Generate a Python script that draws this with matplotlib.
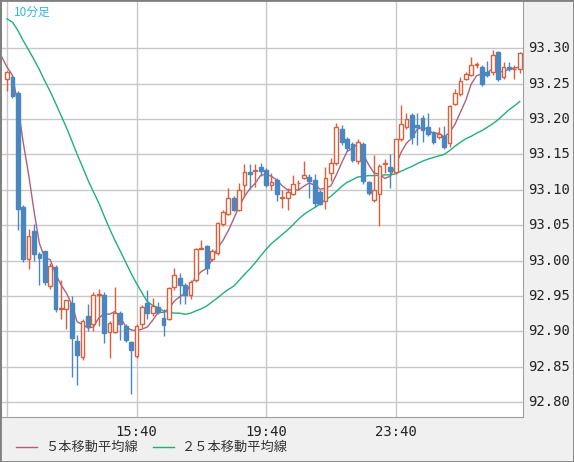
import matplotlib
matplotlib.use("Agg")
import matplotlib.pyplot as plt
import numpy as np

plt.rcParams['font.family'] = ['Noto Sans CJK JP', 'DejaVu Sans']

opens = [93.257,93.259,93.237,93.076,93.002,93.042,93.009,93.013,92.964,92.991,
         92.932,92.932,92.940,92.887,92.864,92.922,92.910,92.951,92.952,92.899,
         92.899,92.926,92.908,92.885,92.865,92.910,92.940,92.926,92.935,92.919,
         92.917,92.962,92.975,92.966,92.952,92.972,93.017,93.020,93.002,93.010,
         93.051,93.066,93.088,93.072,93.107,93.125,93.127,93.132,93.128,93.107,
         93.114,93.088,93.088,93.094,93.109,93.117,93.118,93.114,93.097,93.084,
         93.124,93.138,93.186,93.172,93.165,93.141,93.165,93.111,93.086,93.094,
         93.137,93.132,93.125,93.171,93.189,93.205,93.192,93.202,93.188,93.181,
         93.174,93.176,93.166,93.221,93.235,93.257,93.262,93.276,93.273,93.267,
         93.266,93.294,93.259,93.274,93.270,93.270]
highs = [93.268,93.262,93.240,93.078,93.044,93.051,93.012,93.013,92.996,92.993,
         92.972,92.944,92.950,92.895,92.917,92.938,92.956,92.960,92.955,92.914,
         92.963,92.929,92.910,92.887,92.910,92.937,92.958,92.947,92.941,92.932,
         92.962,92.990,92.983,92.968,92.973,93.018,93.029,93.022,93.016,93.055,
         93.072,93.103,93.091,93.110,93.136,93.137,93.137,93.138,93.130,93.124,
         93.116,93.100,93.102,93.121,93.114,93.140,93.122,93.122,93.100,93.132,
         93.145,93.194,93.192,93.174,93.168,93.171,93.167,93.113,93.149,93.136,
         93.144,93.151,93.172,93.219,93.208,93.208,93.208,93.206,93.208,93.183,
         93.189,93.190,93.220,93.242,93.259,93.267,93.287,93.280,93.276,93.282,
         93.297,93.296,93.280,93.281,93.276,93.295]
lows = [93.240,93.230,93.043,92.998,92.988,93.000,92.966,92.966,92.960,92.928,
        92.917,92.904,92.836,92.824,92.860,92.900,92.900,92.908,92.883,92.863,
        92.897,92.888,92.885,92.812,92.862,92.905,92.917,92.921,92.925,92.894,
        92.916,92.958,92.938,92.938,92.946,92.970,93.016,92.981,93.000,93.008,
        93.049,93.064,93.070,93.070,93.090,93.101,93.104,93.120,93.104,93.099,
        93.084,93.074,93.072,93.092,93.100,93.115,93.088,93.075,93.078,93.073,
        93.113,93.135,93.163,93.155,93.139,93.137,93.108,93.093,93.083,93.049,
        93.123,93.103,93.122,93.169,93.186,93.165,93.163,93.167,93.176,93.165,
        93.171,93.158,93.161,93.219,93.232,93.255,93.260,93.272,93.246,93.259,
        93.262,93.254,93.256,93.268,93.257,93.265]
closes = [93.266,93.233,93.073,93.002,93.034,93.009,93.003,92.969,92.992,92.932,
          92.933,92.944,92.890,92.867,92.915,92.907,92.952,92.953,92.897,92.912,
          92.926,92.910,92.888,92.874,92.908,92.935,92.926,92.936,92.928,92.909,
          92.961,92.980,92.966,92.952,92.970,93.016,93.018,92.989,93.013,93.053,
          93.068,93.088,93.072,93.100,93.125,93.122,93.128,93.127,93.107,93.111,
          93.094,93.089,93.097,93.108,93.110,93.121,93.112,93.081,93.080,93.117,
          93.138,93.188,93.167,93.159,93.142,93.168,93.112,93.096,93.100,93.134,
          93.138,93.127,93.171,93.193,93.200,93.174,93.189,93.185,93.179,93.168,
          93.179,93.161,93.218,93.236,93.253,93.263,93.276,93.277,93.250,93.262,
          93.290,93.256,93.274,93.270,93.271,93.293]
# closes before the first visible candle (used only for the moving averages)
prior_closes = [93.35,93.36,93.37,93.36,93.35,93.36,93.37,93.36,93.35,93.36,
                93.37,93.36,93.35,93.36,93.37,93.36,93.35,93.36,93.36,93.34,
                93.29,93.28,93.27,93.26]
x_tick_pos = [24, 48, 72]
x_tick_labels = ["15:40", "19:40", "23:40"]
y_ticks = [92.80, 92.85, 92.90, 92.95, 93.00, 93.05, 93.10, 93.15, 93.20, 93.25, 93.30]

UP = '#d9603b'; DN = '#4a86c0'; MA5 = '#b0607e'; MA25 = '#20b078'

W, H = 574, 462
fig = plt.figure(figsize=(W/100, H/100), dpi=100, facecolor='#f0f0f0')
fig.patches.append(plt.Rectangle((0, 0), 1, 1, transform=fig.transFigure,
                                 fill=False, edgecolor='#808080', lw=2))
ax = fig.add_axes([0, 1 - 417/H, 523/W, 417/H])
ax.set_facecolor('white')
for s in ['top', 'bottom', 'right']:
    ax.spines[s].set_visible(False)
ax.spines['left'].set_color('#777777'); ax.spines['left'].set_linewidth(2)
ax.spines['bottom'].set_visible(True); ax.spines['bottom'].set_color('#a0a0a0')
ax.spines['right'].set_visible(True); ax.spines['right'].set_color('#a0a0a0')

n = len(closes)
idx = np.arange(n)
ax.set_xlim(-1.3, 95.6)
ax.set_ylim(92.779, 93.368)
for yv in y_ticks:
    ax.axhline(yv, color='#c8c8c8', lw=1, zorder=0)
for xv in [0] + x_tick_pos:
    ax.axvline(xv, color='#c8c8c8', lw=1, zorder=0)

allc = np.array(prior_closes + closes)
def ma(p):
    return np.array([allc[i-p+1:i+1].mean() for i in range(p-1, len(allc))])
m5 = ma(5); m25 = ma(25)
off = len(prior_closes)
x5 = np.arange(len(m5)) + (4 - off)
x25 = np.arange(len(m25)) + (24 - off)
ax.plot(x5, m5, color=MA5, lw=1, zorder=3)
ax.plot(x25, m25, color=MA25, lw=1, zorder=3)

bw = 0.7
for i in idx:
    o, h, l, c = opens[i], highs[i], lows[i], closes[i]
    up = c >= o
    col = UP if up else DN
    ax.vlines(i, l, h, color=col, lw=1, zorder=4)
    lo, hi = min(o, c), max(o, c)
    hgt = max(hi - lo, 0.0012)
    if up:
        ax.add_patch(plt.Rectangle((i - bw/2, lo), bw, hgt, facecolor='white',
                                   edgecolor=col, lw=1, zorder=5))
    else:
        ax.add_patch(plt.Rectangle((i - bw/2, lo), bw, hgt, facecolor=col,
                                   edgecolor=col, lw=1, zorder=5))

ax.set_xticks([]); ax.set_yticks([])
for yv in y_ticks:
    ax.text(1.01, (yv - 92.779) / (93.368 - 92.779), f"{yv:.2f}", transform=ax.transAxes,
            ha='left', va='center', fontsize=10, family='DejaVu Sans Mono', color='#222222')
for xp, lab in zip(x_tick_pos, x_tick_labels):
    ax.text(xp, 92.779 - 0.021, lab, ha='center', va='center', fontsize=10,
            family='DejaVu Sans Mono', color='#222222', clip_on=False)
ax.text(14/523, 1 - 12/417, "10分足", transform=ax.transAxes, ha='left', va='center',
        fontsize=8.5, color='#33b5e5')

# legend
fig.lines.append(plt.Line2D([16/W, 37/W], [1-447/H]*2, color=MA5, lw=1, transform=fig.transFigure))
fig.text(45/W, 1-447/H, "５本移動平均線", fontsize=9.5, va='center', color='#333333')
fig.lines.append(plt.Line2D([153/W, 174/W], [1-447/H]*2, color=MA25, lw=1, transform=fig.transFigure))
fig.text(182/W, 1-447/H, "２５本移動平均線", fontsize=9.5, va='center', color='#333333')

fig.savefig('out.png', dpi=100, facecolor=fig.get_facecolor())
